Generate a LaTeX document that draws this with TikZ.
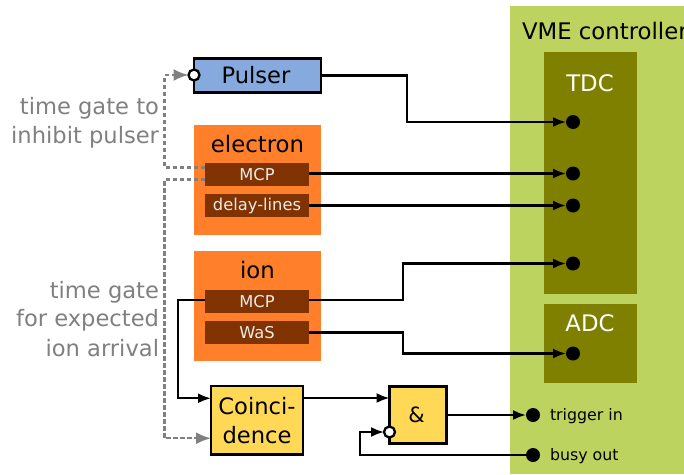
\documentclass[tikz,border=0pt]{standalone}
\usepackage{fontspec}
\setmainfont{DejaVu Sans}
\usetikzlibrary{arrows.meta}
\definecolor{cblue}{HTML}{87AADE}
\definecolor{corange}{HTML}{FF7F2A}
\definecolor{cbrown}{HTML}{803300}
\definecolor{cyellow}{HTML}{FFD955}
\definecolor{cgreen}{HTML}{BCD35F}
\definecolor{colive}{HTML}{808000}
\definecolor{cgray}{HTML}{808080}
\tikzset{
  x=1pt,y=-1pt,
  every node/.style={inner sep=0pt,outer sep=0pt},
  panel/.style={anchor=north west,fill=#1},
  biglabel/.style={anchor=base,font=\fontsize{22.8}{24}\selectfont},
  logicbox/.style={anchor=north west,draw=black,line width=2.3pt,fill=#1,font=\fontsize{22.6}{29}\selectfont,align=center},
  channel/.style={anchor=north west,fill=cbrown,text=white!92!black,minimum width=104pt,minimum height=23pt,font=\fontsize{16.3}{18}\selectfont},
  sidetext/.style={anchor=east,text=cgray,font=\fontsize{22.6}{24}\selectfont},
  port/.style={circle,fill=black,minimum size=14pt},
  invert/.style={circle,draw=black,line width=2.3pt,fill=white,minimum size=11pt},
  conn/.style={line width=2.2pt,black,-{Latex[length=13pt,width=10pt]}},
  gate/.style={line width=2.2pt,cgray,dash pattern=on 4.5pt off 2.5pt,-{Latex[length=15pt,width=12pt]}},
  smalllabel/.style={anchor=west,font=\fontsize{15.8}{18}\selectfont},
}
\begin{document}
\begin{tikzpicture}
\useasboundingbox (0,0) rectangle (684,474);
% VME controller
\node[panel=cgreen,minimum width=174pt,minimum height=468pt] (vme) at (510,6) {};
\node[anchor=base west,font=\fontsize{22.8}{24}\selectfont] (vmelabel) at (522,39) {VME controller};
\node[panel=colive,minimum width=93pt,minimum height=242pt] (tdc) at (544,52) {};
\node[biglabel,text=white] (tdclabel) at (590,91) {TDC};
\node[panel=colive,minimum width=93pt,minimum height=79pt] (adc) at (544,304) {};
\node[biglabel,text=white] (adclabel) at (590,331) {ADC};
\node[port] (t1) at (573,122) {};
\node[port] (t2) at (573,173.5) {};
\node[port] (t3) at (573,205.5) {};
\node[port] (t4) at (573,263.5) {};
\node[port] (a1) at (573,353.5) {};
\node[port] (trig) at (533,415) {};
\node[port] (busy) at (533,455) {};
\node[smalllabel] (trigl) at (550,416) {trigger in};
\node[smalllabel] (busyl) at (550,456) {busy out};
% Pulser
\node[logicbox=cblue,minimum width=127pt,minimum height=34pt] (pulser) at (194,58.5) {Pulser\hspace{3pt}};
\node[invert] (pinv) at (194,75) {};
% electron
\node[panel=corange,minimum width=127pt,minimum height=110pt] (electron) at (194,125) {};
\node[biglabel] (elabel) at (257.5,152) {electron};
\node[channel] (emcp) at (205,163) {MCP};
\node[channel] (edl) at (205,194) {delay-lines};
% ion
\node[panel=corange,minimum width=127pt,minimum height=110pt] (ion) at (194,251) {};
\node[biglabel] (ilabel) at (257.5,278) {ion};
\node[channel] (imcp) at (205,290) {MCP};
\node[channel] (was) at (205,321) {WaS};
% logic
\node[logicbox=cyellow,minimum width=92pt,minimum height=68.5pt] (coin) at (211,386) {Coinci-\\dence};
\node[logicbox=cyellow,minimum width=57pt,minimum height=57pt,font=\fontsize{21}{24}\selectfont] (and) at (389.5,386.5) {\&\hspace{3pt}};
\node[invert] (ainv) at (389.5,432) {};
% side labels
\node[sidetext] (s1) at (159,108.5) {time gate to};
\node[sidetext] (s2) at (159,137.5) {inhibit pulser};
\node[sidetext] (s3) at (159,292.5) {time gate};
\node[sidetext] (s4) at (159,320.5) {for expected};
\node[sidetext] (s5) at (159,348.5) {ion arrival};
% connectors
\draw[conn] (pulser.east) -- ++(86,0) |- (t1.west);
\draw[conn] ([yshift=1pt]emcp.east) -- (t2.west);
\draw[conn] (edl.east) -- (t3.west);
\draw[conn] ([yshift=1.5pt]imcp.east) -- (403,300) |- (t4.west);
\draw[conn] (was.east) -- (403,332.5) |- (a1.west);
\draw[conn] ([yshift=1.5pt]imcp.west) -- (178,300) |- ([yshift=22pt]coin.west);
\draw[conn] ([yshift=22.25pt]coin.east) -- ([yshift=17pt]and.west);
\draw[conn] (and.east) -- (trig.west);
\draw[conn] (busy.west) -- (360,455) |- (ainv.west);
\draw[gate] ([yshift=7pt]emcp.west) -- (164.5,167.5) |- (pinv.west);
\draw[gate] ([yshift=-5pt]emcp.west) -- (164.5,179.5) |- ([yshift=-18pt]coin.west);
\end{tikzpicture}
\end{document}
